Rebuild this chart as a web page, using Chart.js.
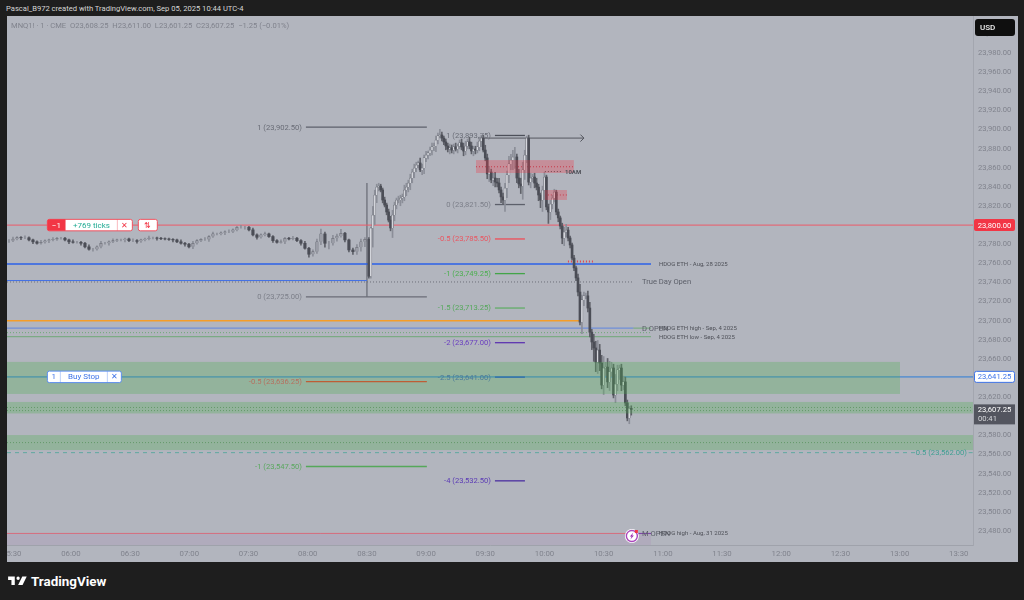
<!DOCTYPE html>
<html>
<head>
<meta charset="utf-8">
<title>MNQ1! 1 minute</title>
<script src="https://cdn.jsdelivr.net/npm/chart.js@4/dist/chart.umd.min.js"></script>
<style>
    html, body { margin: 0; padding: 0; width: 1024px; height: 600px; overflow: hidden; background: #1e1e1e; font-family: Roboto, sans-serif; }
    #created { position: absolute; left: 6px; top: 4px; color: #d6d6d6; font-size: 7.6px; white-space: nowrap; }
    #chart { position: absolute; left: 7px; top: 16px; }
    #logo { position: absolute; left: 7px; top: 573px; display: flex; align-items: center; color: #fff; font-size: 13.4px; font-weight: 700; }
    #logo svg { width: 20px; height: 16px; margin-right: 4px; }
</style>
</head>
<body>
<div id="created">Pascal_B972 created with TradingView.com, Sep 05, 2025 10:44 UTC-4</div>
<canvas id="chart" width="1011" height="546"></canvas>
<div id="logo">
    <svg viewBox="0 0 36 28"><path fill="#fff" d="M14 6H2v6h6v9h6V6zm14 15h-8l7.5-15h8L28 21zm-8-9a3 3 0 1 0 0-6 3 3 0 0 0 0 6z"/></svg>
    <span>TradingView</span>
</div>

<script>
// --- candles ---
// before the 08:30 open the bars are packed, so one value every ~2 minutes
const preCloses = [23783.75, 23785.5, 23787, 23786.75, 23786.75, 23784.5, 23782.5, 23781, 23782, 23783.5,
    23784.5, 23785, 23786.25, 23786.25, 23784.5, 23782.5, 23782, 23782, 23781, 23777.25,
    23774.75, 23774.75, 23777.25, 23781, 23781, 23782.5, 23783.75, 23784.5, 23784.5, 23785.5,
    23783.75, 23783.75, 23783, 23784.5, 23785.5, 23786.5, 23786.5, 23786.25, 23785.75, 23785.5,
    23785, 23784.5, 23782.5, 23781, 23780, 23777.25, 23781, 23783.75, 23785, 23785,
    23788, 23790.75, 23790.75, 23792, 23793, 23793, 23795, 23797.75, 23797.75, 23797.75,
    23795, 23789.75, 23787.25, 23789.75, 23790.75, 23788, 23783.75, 23782, 23782.5, 23786.25,
    23785.5, 23786.25, 23783.75, 23781, 23775.75, 23769.5, 23772.25, 23782.5, 23790.75, 23781,
    23781, 23786.25, 23788.5, 23791.5, 23784.5, 23774, 23772.25, 23776.75, 23782.5, 23785];
const preWickUp = [1, 2, 1, 1, 2, 1, 1, 1, 2, 1, 1, 2, 1, 1, 1, 1, 2, 1, 1, 1, 2, 1, 1, 2, 1, 1, 2, 1, 1, 1,
    1, 2, 1, 1, 1, 2, 1, 1, 1, 1, 1, 1, 1, 2, 1, 1, 2, 1, 1, 2, 1, 2, 1, 1, 1, 2, 1, 1, 2, 1,
    1, 2, 1, 1, 2, 1, 1, 1, 2, 1, 1, 2, 1, 1, 2, 1, 2, 3, 5, 2, 2, 3, 2, 4, 1, 1, 2, 3, 3, 2];
const preWickDown = [2, 1, 1, 2, 1, 1, 2, 1, 1, 1, 2, 1, 1, 1, 1, 2, 1, 1, 2, 1, 1, 2, 1, 1, 1, 2, 1, 1, 1, 2,
    1, 1, 2, 1, 1, 1, 1, 2, 1, 1, 1, 2, 1, 1, 2, 1, 2, 1, 1, 1, 2, 1, 1, 1, 2, 1, 1, 1, 1, 2,
    1, 1, 2, 1, 1, 1, 2, 1, 1, 2, 1, 1, 1, 2, 1, 3, 2, 2, 3, 4, 6, 2, 3, 1, 2, 2, 3, 3, 4, 5];

// from the open on, one value per minute
const rthCloses = [23746.5, 23797, 23810.5, 23831.5, 23839.75, 23840.75, 23836.75, 23826.25, 23821, 23813.75,
    23805.25, 23797, 23810.5, 23821, 23826.25, 23826.25, 23828.25, 23829.5, 23836.75, 23839.75,
    23844, 23849.25, 23855.5, 23859.75, 23862.75, 23865, 23857.75, 23859.75, 23870.25, 23873.25,
    23875.5, 23878.5, 23881.75, 23882.75, 23889, 23893.25, 23894.25, 23891, 23887, 23882.75,
    23879.5, 23880.75, 23878.5, 23881.75, 23879.5, 23882.75, 23886, 23881.75, 23877.5, 23882.75,
    23887, 23882.75, 23877.5, 23879.5, 23878.5, 23881.75, 23888, 23891, 23878.5, 23870.25,
    23853.5, 23855.5, 23847.25, 23849.25, 23845, 23844, 23836.75, 23829.5, 23826.25, 23838.75,
    23852.5, 23864, 23868, 23871.25, 23871.25, 23849.25, 23843, 23841, 23857.75, 23873.25,
    23891, 23845, 23849.25, 23850.25, 23844, 23839.75, 23831.5, 23826.25, 23836.75, 23850.25,
    23819, 23813.75, 23822, 23828.25, 23834.5, 23813.75, 23807.5, 23799, 23786.5, 23792.75,
    23794.75, 23786.5, 23779.25, 23765.5, 23755.25, 23744.75, 23730, 23698.5, 23721.75, 23726,
    23726, 23713.25, 23688, 23677.75, 23671.5, 23656.75, 23669.25, 23655.75, 23632.75, 23650.5,
    23651.5, 23636, 23646.5, 23650.5, 23622.25, 23633.75, 23648.5, 23650.5, 23632.75, 23636,
    23614, 23598.25, 23608.25, 23607.25];
const rthWickUp = [2, 1, 9, 5, 3, 3, 2, 2, 3, 2, 3, 4, 5, 3, 2, 4, 3, 3, 5, 4,
    3, 4, 3, 4, 3, 2, 5, 4, 3, 4, 2, 3, 4, 3, 4, 3, 6, 3, 2, 3,
    3, 4, 3, 3, 4, 2, 3, 4, 4, 5, 3, 5, 4, 3, 3, 5, 4, 3, 3, 5,
    4, 6, 3, 5, 6, 4, 5, 3, 4, 5, 4, 8, 6, 7, 10, 3, 9, 6, 8, 5,
    2, 3, 5, 3, 4, 5, 3, 2, 4, 5, 2, 3, 4, 3, 3, 2, 3, 2, 3, 5,
    6, 3, 2, 2, 3, 2, 4, 8, 5, 4, 3, 5, 6, 3, 8, 7, 10, 6, 8, 12,
    5, 9, 11, 6, 4, 10, 5, 3, 4, 6, 5, 3, 2, 2.75];
const rthWickDown = [2, 2, 20, 10, 8, 4, 2, 3, 2, 3, 2, 3, 10, 6, 4, 3, 6, 5, 4, 6,
    5, 7, 5, 6, 4, 3, 2, 5, 6, 4, 4, 3, 5, 4, 6, 4, 2, 3, 3, 4,
    3, 5, 3, 4, 2, 4, 3, 3, 5, 4, 3, 3, 3, 5, 4, 3, 4, 6, 2, 3,
    5, 8, 3, 6, 5, 4, 3, 6, 4, 12, 10, 8, 6, 10, 12, 5, 4, 8, 14, 10,
    8, 3, 6, 4, 5, 3, 6, 8, 12, 10, 3, 12, 8, 5, 4, 3, 4, 3, 6, 8,
    5, 3, 3, 2, 3, 3, 4, 3, 12, 6, 3, 4, 5, 8, 14, 10, 12, 8, 4, 10,
    8, 6, 9, 5, 3, 8, 7, 10, 6, 5, 3, 3, 6, 6];

// --- axes ---
const timeTicks = ['05:30', '06:00', '06:30', '07:00', '07:30', '08:00', '08:30', '09:00', '09:30',
    '10:00', '10:30', '11:00', '11:30', '12:00', '12:30', '13:00', '13:30'];
const priceStep = 20;

// --- horizontal levels: price and the minute where each one stops ---
const levelPrices = [23800, 23759.25, 23742, 23700, 23692.25, 23683.25, 23641.25, 23477.5];
const levelEnds = [817.2, 654, 510, 619.5, 645, 654, 817.2, 645];
const dottedPrices = [23740.5, 23687.5, 23609.25, 23606, 23572.5, 23861, 23831.5, 23762, 23856];
const dottedStarts = [327.6, 327.6, 327.6, 327.6, 327.6, 565.3, 600.2, 611.9, 600.2];
const dottedEnds = [645, 654, 817.2, 817.2, 817.2, 614.9, 611.4, 625.1, 608.9];
const targetPrice = 23562;

// --- fib labels ---
const fibRatios = ['1', '0', '1', '0', '-0.5', '-1', '-1.5', '-2', '-2.5', '-4', '-0.5', '-1'];
const fibPrices = [23902.5, 23725, 23893.75, 23821.5, 23785.5, 23749.25, 23713.25, 23677, 23641, 23532.5, 23636.25, 23547.5];
const fibStarts = [479.1, 479.1, 574.9, 574.9, 574.9, 574.9, 574.9, 574.9, 574.9, 574.9, 479.1, 479.1];
const fibEnds = [540.4, 540.4, 590.1, 590.1, 590.1, 590.1, 590.1, 590.1, 590.1, 590.1, 540.4, 540.4];

// --- shaded zones ---
const greenTops = [23656.9, 23615, 23580.4];
const greenBottoms = [23623.4, 23603, 23564.7];
const greenEnds = [780.2, 817.2, 817.2];
const redTops = [23868, 23836.7];
const redBottoms = [23854.5, 23826.3];
const redStarts = [565.3, 600.2];
const redEnds = [614.9, 611.4];

// --- notes on the chart: text, minute, price ---
const noteTexts = ['True Day Open', 'HDOG ETH - Aug, 28 2025', 'D OPEN', 'HDOG ETH high - Sep, 4 2025', 'HDOG ETH low - Sep, 4 2025', 'M OPEN', 'HDOG high - Aug, 31 2025', '10AM'];
const noteMinutes = [649.4, 658, 649.4, 658, 658, 649.4, 658, 610.4];
const notePrices = [23740.5, 23759.25, 23692.25, 23692.25, 23683.25, 23477.5, 23477.5, 23856];

const lastPrice = 23607.25;
const quoteText = 'MNQ1! · 1 · CME  O23,608.25  H23,611.00  L23,601.25  C23,607.25  −1.25 (−0.01%)';

// --- colours ---
const colUp = '#d4d6dc';
const colPreUp = '#9a9ca6';
const colDown = '#4b4d56';
const colWickUp = '#8b8e98';
const colWickDown = '#5f6169';
const levelStyles = [
    { color: '#ec5a68', width: 1 },
    { color: '#2b62e8', width: 1.4 },
    { color: '#3f6fe6', width: 1 },
    { color: '#f59d27', width: 1.4 },
    { color: '#6f8fd8', width: 1.2 },
    { color: '#6fa877', width: 1 },
    { color: '#6494cc', width: 1.6 },
    { color: '#d9707d', width: 1 }
];
const dottedColors = ['#6c6f79', '#6fa877', '#6f8f76', '#6f8f76', '#6f8f76', '#b33a48', '#b33a48', '#e0434f', '#45474f'];
const fibColors = ['#5d606b', '#6a6d77', '#4d505a', '#5d606b', '#ef4d58', '#43a548', '#62ad68', '#5e35b1', '#1f4fd0', '#4a2fa0', '#f03a2a', '#55a85a'];
const fibTextColors = ['#696c76', '#7c7f89', '#6a6d77', '#7c7f89', '#ea5560', '#4caf50', '#55a85c', '#6a3fc0', '#4a7a9a', '#5b3bb5', '#b5705f', '#5aa85f'];

const fmt = (v) => v.toLocaleString('en-US', { minimumFractionDigits: 2, maximumFractionDigits: 2 });

// --- candle rows ---
const preCandles = [];
const rthCandles = [];
let prev = preCloses[0];
preCloses.forEach((c, i) => {
    preCandles.push({ m: 328.6 + i * 2.027, o: prev, c: c, up: preWickUp[i], down: preWickDown[i] });
    prev = c;
});
rthCloses.forEach((c, i) => {
    rthCandles.push({ m: 511 + i, o: prev, c: c, up: rthWickUp[i], down: rthWickDown[i] });
    prev = c;
});

const flat = (from, to, price, color, width, dash) => ({
    type: 'line',
    data: [{ x: from, y: price }, { x: to, y: price }],
    borderColor: color,
    borderWidth: width,
    borderDash: dash || [],
    pointRadius: 0,
    order: 3
});

const wickSet = (rows) => ({
    type: 'bar',
    data: rows.map(k => ({ x: k.m, y: [Math.min(k.o, k.c) - k.down, Math.max(k.o, k.c) + k.up] })),
    backgroundColor: rows.map(k => k.c >= k.o ? colWickUp : colWickDown),
    barThickness: 1,
    order: 2
});
const bodySet = (rows, thick, upColor) => ({
    type: 'bar',
    data: rows.map(k => ({ x: k.m, y: [k.o, k.c] })),
    backgroundColor: rows.map(k => k.c >= k.o ? upColor : colDown),
    borderColor: '#5a5c65',
    borderWidth: rows.map(k => k.c >= k.o ? 0.5 : 0),
    barThickness: thick,
    order: 1
});

const datasets = [wickSet(preCandles), wickSet(rthCandles), bodySet(preCandles, 2.5, colPreUp), bodySet(rthCandles, 2, colUp)];
fibPrices.forEach((p, i) => datasets.push(flat(fibStarts[i], fibEnds[i], p, fibColors[i], 1.3)));
levelPrices.forEach((p, i) => datasets.push(flat(327.6, levelEnds[i], p, levelStyles[i].color, levelStyles[i].width)));
dottedPrices.forEach((p, i) => datasets.push(flat(dottedStarts[i], dottedEnds[i], p, dottedColors[i], i === 7 ? 2 : 1, [1, 2])));
datasets.push(flat(645, 654, 23477.5, '#7b3fa8', 1));
datasets.push(flat(645, 654, 23692.25, '#6fa877', 1));
datasets.push(flat(327.6, 787.8, targetPrice, '#5fa8a0', 1, [4, 4]));
datasets.push(flat(815, 817.2, targetPrice, '#5fa8a0', 1, [4, 4]));
datasets.push(flat(566.3, 620, 23891, '#55575f', 1));
// thin anchor line of the lower fib
datasets.push({ type: 'line', data: [{ x: 510, y: 23844 }, { x: 510, y: 23725 }], borderColor: '#7d808a', borderWidth: 1, pointRadius: 0, order: 3 });

const annotations = {
    id: 'annotations',
    beforeDraw(chart) {
        const { ctx, width, height } = chart;
        ctx.fillStyle = '#b2b5be';
        ctx.fillRect(0, 0, width, height);
    },
    afterDatasetsDraw(chart) {
        const { ctx, scales: { x, y }, chartArea } = chart;
        const px = (m) => x.getPixelForValue(m);
        const py = (p) => y.getPixelForValue(p);

        ctx.save();
        // lilac band under the monthly level
        ctx.fillStyle = 'rgba(156, 39, 176, 0.07)';
        ctx.fillRect(px(327.6), py(23477.5), px(654) - px(327.6), chartArea.bottom - py(23477.5));
        // zones lie over the candles
        ctx.fillStyle = 'rgba(76, 175, 80, 0.3)';
        greenTops.forEach((t, i) => ctx.fillRect(px(327.6), py(t), px(greenEnds[i]) - px(327.6), py(greenBottoms[i]) - py(t)));
        ctx.fillStyle = 'rgba(242, 54, 69, 0.3)';
        redTops.forEach((t, i) => ctx.fillRect(px(redStarts[i]), py(t), px(redEnds[i]) - px(redStarts[i]), py(redBottoms[i]) - py(t)));

        // arrow head
        ctx.strokeStyle = '#55575f';
        ctx.lineWidth = 1;
        ctx.beginPath();
        ctx.moveTo(px(620) - 3.5, py(23891) - 3.5);
        ctx.lineTo(px(620), py(23891));
        ctx.lineTo(px(620) - 3.5, py(23891) + 3.5);
        ctx.stroke();

        // fib labels
        ctx.textBaseline = 'middle';
        ctx.textAlign = 'right';
        ctx.font = '7.6px Roboto';
        fibPrices.forEach((p, i) => {
            ctx.fillStyle = fibTextColors[i];
            ctx.fillText(fibRatios[i] + ' (' + fmt(p) + ')', px(fibStarts[i]) - 4, py(p) + 0.5);
        });

        // notes
        ctx.textAlign = 'left';
        noteTexts.forEach((t, i) => {
            const big = t === 'True Day Open' || t.endsWith('OPEN');
            ctx.font = big ? '7.6px Roboto' : (t === '10AM' ? 'bold 6px Roboto' : '6px Roboto');
            ctx.fillStyle = big ? '#5b5e68' : '#4e5058';
            ctx.fillText(t, px(noteMinutes[i]), py(notePrices[i]) + 0.5);
        });

        // target label sits in the gap of the dashed line
        ctx.font = '7.6px Roboto';
        ctx.fillStyle = '#3f9f92';
        ctx.textAlign = 'right';
        ctx.fillText('0.5 (' + fmt(targetPrice) + ')', px(814.1), py(targetPrice) + 0.5);

        // quote line
        ctx.textAlign = 'left';
        ctx.fillStyle = '#80838d';
        ctx.font = '7.6px Roboto';
        ctx.fillText(quoteText, 4, 10);

        // order pills
        drawPill(ctx, px(347.8), py(23800), [18, 52, 15], ['−1', '+769 ticks', '✕'], '#f0525f', ['#fff', '#22ab94', '#f23645'], '#f23645');
        drawPill(ctx, px(393.9), py(23800), [19], ['⇅'], '#f0525f', ['#f23645']);
        drawPill(ctx, px(347.8), py(23641.25), [13, 47, 14], ['1', 'Buy Stop', '✕'], '#5b8def', ['#3f74e8', '#3f74e8', '#3f74e8']);

        // alert badge
        const bx = px(644.3), by = py(23474.8);
        ctx.beginPath();
        ctx.arc(bx, by, 7, 0, Math.PI * 2);
        ctx.fillStyle = '#fff';
        ctx.fill();
        ctx.lineWidth = 1.4;
        ctx.strokeStyle = '#ab47bc';
        ctx.beginPath();
        ctx.arc(bx, by, 5.5, 0, Math.PI * 2);
        ctx.stroke();
        ctx.fillStyle = '#9c27b0';
        ctx.beginPath();
        ctx.moveTo(bx + 1.5, by - 3.5);
        ctx.lineTo(bx - 2, by + 0.5);
        ctx.lineTo(bx - 0.2, by + 0.5);
        ctx.lineTo(bx - 1.5, by + 3.5);
        ctx.lineTo(bx + 2, by - 0.5);
        ctx.lineTo(bx + 0.2, by - 0.5);
        ctx.closePath();
        ctx.fill();
        ctx.fillStyle = '#f23645';
        ctx.fillRect(bx + 3, by - 6, 3, 3);
        ctx.restore();
    },
    afterDraw(chart) {
        const { ctx, scales: { y }, chartArea } = chart;
        const left = chartArea.right + 1;
        const w = 41;
        ctx.save();
        ctx.textBaseline = 'middle';
        ctx.textAlign = 'center';
        const cx = left + w / 2;

        // USD button
        ctx.fillStyle = '#0f0f0f';
        ctx.beginPath();
        ctx.roundRect(left + 1, 3, w - 1, 17, 3);
        ctx.fill();
        ctx.fillStyle = '#f2f2f2';
        ctx.font = '500 8px Roboto';
        ctx.textAlign = 'left';
        ctx.fillText('USD', left + 6, 12);
        ctx.textAlign = 'center';

        // red tag
        ctx.fillStyle = '#f23645';
        ctx.beginPath();
        ctx.roundRect(left, y.getPixelForValue(23800) - 6, w, 12, 2);
        ctx.fill();
        ctx.fillStyle = '#fff';
        ctx.font = '7.6px Roboto';
        ctx.fillText(fmt(23800), cx, y.getPixelForValue(23800) + 0.5);

        // blue tag
        const by = y.getPixelForValue(23641.25);
        ctx.fillStyle = '#fff';
        ctx.strokeStyle = '#3f74e8';
        ctx.lineWidth = 1;
        ctx.beginPath();
        ctx.roundRect(left + 0.5, by - 5.5, w - 1, 11, 2);
        ctx.fill();
        ctx.stroke();
        ctx.fillStyle = '#3f74e8';
        ctx.fillText(fmt(23641.25), cx, by + 0.5);

        // last price tag with countdown
        const ly = y.getPixelForValue(lastPrice);
        ctx.fillStyle = '#53555f';
        ctx.fillRect(left, ly - 5, w, 20);
        ctx.fillStyle = '#fff';
        ctx.fillText(fmt(lastPrice), cx, ly + 1);
        ctx.fillStyle = '#d7d8dc';
        ctx.textAlign = 'left';
        ctx.fillText('00:41', left + 4, ly + 10);
        ctx.restore();
    }
};

// pill built of cells, each with its own text
function drawPill(ctx, x, y, cells, texts, border, colors, firstFill) {
    const h = 11.5;
    const total = cells.reduce((a, b) => a + b, 0);
    ctx.fillStyle = '#fff';
    ctx.strokeStyle = border;
    ctx.lineWidth = 1;
    ctx.beginPath();
    ctx.roundRect(x + 0.5, y - h / 2, total, h, 2);
    ctx.fill();
    ctx.stroke();
    let cur = x + 0.5;
    ctx.textAlign = 'center';
    ctx.textBaseline = 'middle';
    ctx.font = '8px Roboto';
    cells.forEach((w, i) => {
        if (i === 0 && firstFill) {
            ctx.fillStyle = firstFill;
            ctx.beginPath();
            ctx.roundRect(cur, y - h / 2, w, h, [2, 0, 0, 2]);
            ctx.fill();
        }
        if (i > 0) {
            ctx.strokeStyle = border;
            ctx.globalAlpha = 0.4;
            ctx.beginPath();
            ctx.moveTo(cur, y - h / 2);
            ctx.lineTo(cur, y + h / 2);
            ctx.stroke();
            ctx.globalAlpha = 1;
        }
        ctx.fillStyle = colors[i];
        ctx.fillText(texts[i], cur + w / 2, y + 0.5);
        cur += w;
    });
}

Chart.defaults.font.family = 'Roboto, sans-serif';

new Chart(document.getElementById('chart'), {
    data: { datasets: datasets },
    plugins: [annotations],
    options: {
        responsive: false,
        animation: false,
        events: [],
        layout: { padding: 0 },
        datasets: { bar: { grouped: false } },
        plugins: { legend: { display: false }, tooltip: { enabled: false } },
        scales: {
            x: {
                type: 'linear',
                min: 327.6,
                max: 817.2,
                offset: false,
                grid: { display: false, drawTicks: false, offset: false },
                border: { display: true, color: '#9fa2ab' },
                ticks: {
                    stepSize: 30,
                    includeBounds: false,
                    autoSkip: false,
                    maxRotation: 0,
                    padding: 4,
                    color: '#80838d',
                    font: { size: 7.8 },
                    callback: (v) => timeTicks[Math.round((v - 330) / 30)]
                },
                afterFit(s) { s.height = 17; s.paddingLeft = 0; s.paddingRight = 0; }
            },
            y: {
                type: 'linear',
                position: 'right',
                min: 23465.4,
                max: 24018.7,
                grid: { display: false, drawTicks: false },
                border: { display: true, color: '#a3a6af' },
                ticks: {
                    stepSize: priceStep,
                    includeBounds: false,
                    padding: 5,
                    color: '#80838d',
                    font: { size: 7.6 },
                    callback: (v) => fmt(v)
                },
                afterFit(s) { s.width = 45; s.paddingTop = 0; s.paddingBottom = 0; }
            }
        }
    }
});
</script>
</body>
</html>
